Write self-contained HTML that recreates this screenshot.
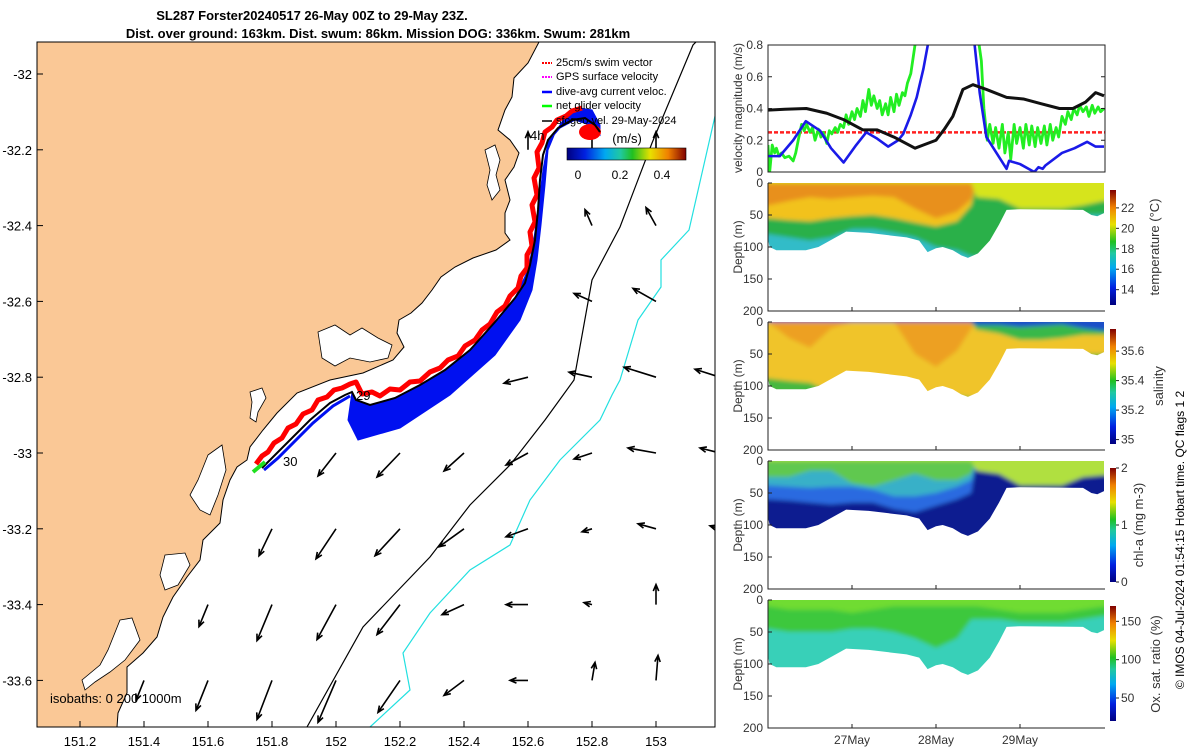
<!DOCTYPE html>
<html><head><meta charset="utf-8">
<style>
html,body{margin:0;padding:0;background:#fff;}
svg{display:block;font-family:"Liberation Sans",sans-serif;}
</style></head>
<body>
<svg id="fig" width="1200" height="750" viewBox="0 0 1200 750" xmlns="http://www.w3.org/2000/svg">
<defs>
  <linearGradient id="jetH" x1="0" x2="1" y1="0" y2="0">
    <stop offset="0" stop-color="#00007f"/><stop offset="0.15" stop-color="#0020e0"/><stop offset="0.32" stop-color="#00a8f0"/>
    <stop offset="0.45" stop-color="#20c8a0"/><stop offset="0.55" stop-color="#20c020"/><stop offset="0.7" stop-color="#e8e000"/>
    <stop offset="0.85" stop-color="#f08000"/><stop offset="1" stop-color="#800000"/>
  </linearGradient>
  <linearGradient id="jetV" x1="0" x2="0" y1="1" y2="0">
    <stop offset="0" stop-color="#00007f"/><stop offset="0.15" stop-color="#0020e0"/><stop offset="0.32" stop-color="#00a8f0"/>
    <stop offset="0.45" stop-color="#20c8a0"/><stop offset="0.55" stop-color="#20c020"/><stop offset="0.7" stop-color="#e8e000"/>
    <stop offset="0.85" stop-color="#f08000"/><stop offset="1" stop-color="#800000"/>
  </linearGradient>
  <filter id="soft" x="-5%" y="-5%" width="110%" height="110%"><feGaussianBlur stdDeviation="2.2"/></filter>
  <clipPath id="mapClip"><rect x="37" y="42" width="678" height="685"/></clipPath>
  <clipPath id="velClip"><rect x="768" y="45" width="337" height="127"/></clipPath>
</defs>

<text x="312" y="20" text-anchor="middle" font-size="13" font-weight="bold">SL287 Forster20240517 26-May 00Z to 29-May 23Z.</text>
<text x="378" y="38" text-anchor="middle" font-size="13" font-weight="bold">Dist. over ground: 163km. Dist. swum: 86km. Mission DOG: 336km. Swum: 281km</text>

<g id="map">
  <g clip-path="url(#mapClip)">
    <path fill="#fac896" stroke="#000" stroke-width="1"
      d="M37,42 L539,42 L528,63 L514,78 L512,97 L505,110 L498,130 L510,140 L519,153 L514,167 L505,180 L510,200 L505,213 L505,233 L510,240 L496,250 L473,258 L455,267 L441,277 L432,290 L422,303 L411,313 L399,320 L397,333 L404,347 L393,360 L363,373 L330,380 L297,393 L277,413 L263,430 L250,447 L247,460 L237,467 L230,480 L223,500 L220,523 L203,540 L200,560 L187,577 L173,597 L163,617 L157,637 L143,653 L127,667 L127,693 L118,713 L117,727 L37,727 Z"/>
    <path fill="#fff" stroke="#000" stroke-width="0.8" d="M485,150 L495,145 L500,160 L496,175 L500,190 L492,200 L487,185 L490,170 Z"/>
    <path fill="#fff" stroke="#000" stroke-width="0.8" d="M318,332 L335,325 L350,335 L362,328 L378,338 L392,345 L388,358 L370,362 L350,358 L335,366 L322,358 Z"/>
    <path fill="#fff" stroke="#000" stroke-width="0.8" d="M250,392 L262,388 L266,398 L258,412 L256,422 L250,418 L252,402 Z"/>
    <path fill="#fff" stroke="#000" stroke-width="0.8" d="M208,455 L222,445 L226,470 L218,495 L210,515 L200,510 L190,495 L198,480 Z"/>
    <path fill="#fff" stroke="#000" stroke-width="0.8" d="M165,555 L185,553 L190,565 L178,585 L165,590 L160,575 Z"/>
    <path fill="#fff" stroke="#000" stroke-width="0.8" d="M120,620 L132,618 L140,640 L125,660 L110,672 L95,682 L85,690 L82,680 L100,665 L108,650 Z"/>
    <polyline fill="none" stroke="#000" stroke-width="1.2" points="307,727 363,627 430,557 470,505 510,465 545,420 574,380 592,280 620,227 652,143 693,45 696,42"/>
    <polyline fill="none" stroke="#22e0e0" stroke-width="1.2" points="370,727 410,690 403,653 430,613 470,570 510,545 530,500 560,460 600,420 612,395 620,380 638,320 661,287 661,260 689,230 718,103"/>
    <g id="arrows"></g>
    <path fill="#0010f0" stroke="#0010f0" stroke-width="1"
      d="M352,392 L348,420 L358,440 L400,428 L450,395 L495,355 L520,320 L532,290 L537,260 L541,225 L545,185 L548,150 L555,133 L565,117 L580,108 L592,110 L600,125 L600,135 L590,125 L575,120 L560,128 L548,142 L543,170 L538,210 L533,245 L528,270 L515,298 L495,322 L470,350 L445,370 L420,385 L395,398 L370,405 L356,400 Z"/>
    <polyline fill="none" stroke="#0010f0" stroke-width="3" points="264,470 278,458 293,443 313,423 333,406 350,396"/>
    <polyline fill="none" stroke="#ff0000" stroke-width="5" stroke-linejoin="round" points="256,464 262,456 268,452 274,443 282,438 288,428 296,424 303,414 312,410 318,400 327,397 334,390 342,388 350,384 356,382 362,394 372,392 380,396 390,389 400,390 410,382 420,381 430,372 440,368 448,360 458,356 465,346 475,340 482,330 490,324 497,312 505,306 510,296 518,288 521,276 527,268 527,255 532,246 530,232 535,222 532,205 537,195 534,178 539,168 537,152 542,143 545,132 552,127 557,120 566,116 572,111 582,108"/>
    <ellipse cx="590" cy="132" rx="11" ry="8" fill="#ff0000"/>
    <polyline fill="none" stroke="#000" stroke-width="2" points="262,468 275,455 290,440 310,420 330,403 345,395 352,392 356,400 370,405 395,398 420,385 445,370 470,350 495,322 515,298 525,283 530,265 535,240 538,210 540,180 543,155 548,140 558,128 572,120 585,118 595,125 600,132"/>
    <polyline fill="none" stroke="#20e020" stroke-width="4" points="253,472 265,462"/>
    <text x="283" y="466" font-size="13">30</text>
    <text x="356" y="400" font-size="13">29</text>
    <text x="530" y="140" font-size="13">4h</text>
    <text x="50" y="703" font-size="13">isobaths: 0   200  1000m</text>
  </g>
  <rect x="37" y="42" width="678" height="685" fill="none" stroke="#000" stroke-width="1"/>
  <g id="mapTicks"></g>
  <g font-size="11">
    <g><line x1="542" y1="63" x2="552" y2="63" stroke="#ff0000" stroke-width="2" stroke-dasharray="2 1"/><text x="556" y="66">25cm/s swim vector</text></g>
    <g><line x1="542" y1="77" x2="552" y2="77" stroke="#ff00ff" stroke-width="2" stroke-dasharray="2 1"/><text x="556" y="80">GPS surface velocity</text></g>
    <g><line x1="542" y1="92" x2="552" y2="92" stroke="#0000ff" stroke-width="2.5"/><text x="556" y="95">dive-avg current veloc.</text></g>
    <g><line x1="542" y1="106" x2="552" y2="106" stroke="#00ff00" stroke-width="2.5"/><text x="556" y="109">net glider velocity</text></g>
    <g><line x1="542" y1="121" x2="552" y2="121" stroke="#000" stroke-width="1.5"/><text x="556" y="124">sfcgeo vel. 29-May-2024</text></g>
    <text x="627" y="143" text-anchor="middle" font-size="13">(m/s)</text>
    <rect x="567" y="148" width="119" height="12" fill="url(#jetH)" stroke="#000" stroke-width="0.6"/>
    <text x="578" y="179" text-anchor="middle" font-size="12">0</text>
    <text x="620" y="179" text-anchor="middle" font-size="12">0.2</text>
    <text x="662" y="179" text-anchor="middle" font-size="12">0.4</text>
  </g>
</g>

<g id="vel"></g>
<g id="sections"></g>
<text transform="translate(1184,540) rotate(-90)" text-anchor="middle" font-size="12">© IMOS 04-Jul-2024 01:54:15 Hobart time. QC flags 1  2</text>
</svg>

<script>
const NS = 'http://www.w3.org/2000/svg';
// ---- map current vectors (tail lon/lat, u/v m/s; 100 px per m/s) ----
const arrLon = [152.6,152.8,153.0, 152.8,153.0, 152.8,153.0, 152.4,152.6,152.8,153.0,153.2, 152.0,152.2,152.4,152.6,152.8,153.0,153.2, 151.8,152.0,152.2,152.4,152.6,152.8,153.0,153.2, 151.6,151.8,152.0,152.2,152.4,152.6,152.8,153.0, 151.4,151.6,151.8,152.0,152.2,152.4,152.6,152.8,153.0];
const arrLat = [-32.2,-32.2,-32.2, -32.4,-32.4, -32.6,-32.6, -32.8,-32.8,-32.8,-32.8,-32.8, -33,-33,-33,-33,-33,-33,-33, -33.2,-33.2,-33.2,-33.2,-33.2,-33.2,-33.2,-33.2, -33.4,-33.4,-33.4,-33.4,-33.4,-33.4,-33.4,-33.4, -33.6,-33.6,-33.6,-33.6,-33.6,-33.6,-33.6,-33.6,-33.6];
const arrU = [0,0,0, -0.07,-0.10, -0.18,-0.23, -0.22,-0.24,-0.23,-0.32,-0.25, -0.18,-0.23,-0.20,-0.22,-0.18,-0.28,-0.20, -0.13,-0.20,-0.25,-0.25,-0.22,-0.10,-0.18,-0.10, -0.09,-0.15,-0.19,-0.23,-0.22,-0.22,-0.08,0.0, -0.08,-0.12,-0.15,-0.18,-0.22,-0.20,-0.18,0.03,0.02];
const arrV = [0.18,0.20,0.18, 0.16,0.18, 0.08,0.13, -0.15,-0.06,0.05,0.10,0.08, -0.23,-0.24,-0.18,-0.12,-0.06,0.05,0.05, -0.27,-0.30,-0.27,-0.18,-0.08,-0.03,0.05,0.03, -0.22,-0.36,-0.35,-0.30,-0.10,0.0,0.02,0.20, -0.20,-0.30,-0.39,-0.42,-0.32,-0.15,0.0,0.18,0.25];
const mapXTicks = [151.2,151.4,151.6,151.8,152,152.2,152.4,152.6,152.8,153];
const mapYTicks = [-32,-32.2,-32.4,-32.6,-32.8,-33,-33.2,-33.4,-33.6];

// ---- velocity magnitude panel ----
const velTicks = [0,0.2,0.4,0.6,0.8];
const swimRef = 0.25;
const blackT = [0,0.2,0.456,0.7,0.9,1.13,1.3,1.5,1.75,1.85,2.0,2.1,2.2,2.32,2.44,2.6,2.84,3.04,3.25,3.47,3.63,3.78,3.9,4.0];
const blackV = [0.39,0.395,0.40,0.37,0.33,0.265,0.265,0.22,0.15,0.17,0.2,0.27,0.35,0.52,0.55,0.52,0.47,0.46,0.43,0.40,0.40,0.44,0.5,0.48];
const blueT = [0,0.14,0.3,0.45,0.62,0.75,0.9,1.05,1.17,1.3,1.43,1.55,1.61,1.7,1.77,1.85,1.92,2.0,2.3,2.45,2.52,2.6,2.72,2.84,2.87,3.0,3.17,3.22,3.27,3.3,3.5,3.65,3.8,3.9,4.0];
const blueV = [0.1,0.1,0.2,0.32,0.26,0.15,0.06,0.17,0.25,0.21,0.16,0.2,0.24,0.36,0.47,0.65,0.85,1.2,1.3,0.85,0.5,0.22,0.12,0.02,0.07,0.05,0.0,0.03,0.02,0.04,0.12,0.15,0.19,0.16,0.16];
const green1T = [0,0.02,0.05,0.08,0.1,0.13,0.16,0.2,0.25,0.3,0.33,0.36,0.4,0.43,0.46,0.5,0.53,0.56,0.6,0.63,0.66,0.7,0.73,0.76,0.8,0.83,0.86,0.9,0.93,0.96,1.0,1.03,1.06,1.1,1.13,1.16,1.2,1.23,1.26,1.3,1.33,1.36,1.4,1.43,1.46,1.5,1.53,1.56,1.6,1.63,1.66,1.7,1.75,1.8];
const green1V = [.17,0,.17,.12,.15,.1,.12,.09,.1,.07,.12,.2,.3,.26,.3,.25,.28,.2,.27,.22,.25,.18,.26,.24,.28,.25,.3,.28,.36,.3,.38,.33,.4,.35,.45,.38,.52,.42,.48,.4,.45,.36,.43,.36,.47,.38,.49,.42,.5,.48,.56,.62,.8,1.0];
const green2T = [2.46,2.50,2.54,2.57,2.61,2.64,2.68,2.71,2.75,2.79,2.82,2.86,2.89,2.93,2.96,3.00,3.04,3.07,3.11,3.14,3.18,3.21,3.25,3.29,3.32,3.36,3.39,3.43,3.46,3.50,3.54,3.57,3.61,3.64,3.68,3.71,3.75,3.79,3.82,3.86,3.89,3.93,3.96,4.00];
const green2V = [1.0,.85,.7,.4,.2,.3,.18,.28,.15,.3,.12,.25,.08,.3,.18,.28,.15,.3,.17,.29,.16,.28,.18,.29,.17,.3,.2,.28,.22,.35,.3,.38,.33,.4,.36,.42,.38,.41,.35,.42,.37,.41,.38,.4];

// ---- section panels ----
const timeTicks = [1,2,3];
const timeTickLabels = ['27May','28May','29May'];
const depthTicks = [0,50,100,150,200];
const bottomT = [0,0.02,0.1,0.45,0.6,0.93,1.2,1.65,1.8,1.9,2.0,2.08,2.2,2.3,2.38,2.5,2.64,2.75,2.84,3.0,3.75,3.85,3.92,4.0];
const bottomD = [88,100,105,105,100,76,78,85,90,108,102,100,105,113,117,110,90,65,42,41,42,50,52,47];
const secT = [0,0.25,0.5,0.75,1,1.25,1.5,1.75,2,2.25,2.42,2.48,2.75,3,3.25,3.5,3.75,4];
const tempGreen  = [80,85,90,85,72,72,78,85,100,105,115,115,110,60,50,50,50,50];
const tempYellow = [55,58,60,55,52,50,55,62,68,60,35,0,0,0,0,0,0,0];
const tempOrange = [35,28,22,25,22,20,22,40,55,45,25,0,0,0,0,0,0,0];
const tempLight  = [0,0,0,0,0,0,0,0,0,0,0,22,25,40,40,40,35,28];
const salYellow  = [88,92,95,110,110,110,110,110,115,115,118,118,110,60,50,50,50,50];
const salOrange  = [0,25,40,10,0,0,0,50,70,45,10,0,0,0,0,0,0,0];
const salGreen   = [0,0,0,0,0,0,0,0,0,0,0,12,18,28,28,25,20,20];
const salBlue    = [0,0,0,0,0,0,0,0,0,0,0,5,5,8,6,4,10,14];
const chlBlue    = [60,62,65,68,65,65,75,80,70,60,50,0,0,0,0,0,0,0];
const chlCyan    = [38,40,42,40,40,45,55,55,50,40,30,0,0,0,0,0,0,0];
const chlGreen   = [25,25,15,15,35,40,30,20,30,30,20,0,0,0,0,0,0,0];
const chlLight   = [0,0,0,0,0,0,0,0,0,0,0,15,20,38,38,38,25,22];
const oxGreen    = [45,50,50,50,45,45,50,60,75,60,30,30,30,35,35,35,30,25];
const oxLight    = [10,15,15,15,20,15,10,10,10,10,10,10,15,20,20,20,15,10];
const tempCbTicks = [14,16,18,20,22];
const salCbTicks = [35,35.2,35.4,35.6];
const chlCbTicks = [0,1,2];
const oxCbTicks = [50,100,150];

const svg = document.getElementById('fig');
function mk(tag, parent){ const e=document.createElementNS(NS,tag); parent.appendChild(e); return e; }

// ===== MAP =====
const X = lon => 80 + (lon-151.2)*320;
const Y = lat => 74 + (-32-lat)*379;
const arrowsG = document.getElementById('arrows');
for (let i=0;i<arrLon.length;i++){
  const x0=X(arrLon[i]), y0=Y(arrLat[i]);
  const x1=x0+arrU[i]*100, y1=y0-arrV[i]*100;
  const ang=Math.atan2(y1-y0,x1-x0), h=7, a=0.4;
  const p=mk('path',arrowsG);
  p.setAttribute('d',`M${x0},${y0} L${x1},${y1} M${x1-h*Math.cos(ang-a)},${y1-h*Math.sin(ang-a)} L${x1},${y1} L${x1-h*Math.cos(ang+a)},${y1-h*Math.sin(ang+a)}`);
  p.setAttribute('stroke','#000'); p.setAttribute('stroke-width','1.6'); p.setAttribute('fill','none');
  
  
}
const mt = document.getElementById('mapTicks');
mapXTicks.forEach(v=>{
  const x=X(v);
  const l=mk('line',mt); l.setAttribute('x1',x); l.setAttribute('x2',x); l.setAttribute('y1',727); l.setAttribute('y2',721); l.setAttribute('stroke','#000');
  
  
  const t=mk('text',mt); t.setAttribute('x',x); t.setAttribute('y',746); t.setAttribute('text-anchor','middle'); t.setAttribute('font-size','13'); t.textContent=String(v);
  
  
});
mapYTicks.forEach(v=>{
  const y=Y(v);
  const l=mk('line',mt); l.setAttribute('x1',37); l.setAttribute('x2',43); l.setAttribute('y1',y); l.setAttribute('y2',y); l.setAttribute('stroke','#000');
  
  
  const t=mk('text',mt); t.setAttribute('x',32); t.setAttribute('y',y+5); t.setAttribute('text-anchor','end'); t.setAttribute('font-size','13'); t.textContent=String(v);
  
  
});

// ===== VELOCITY PANEL =====
const xT = t => 768 + t*84;
const L=768, R=1105;
const vTop=45, vBot=172;
const yV = v => vBot - v/0.8*(vBot-vTop);
const vel = document.getElementById('vel');
const vg = mk('g',vel); vg.setAttribute('clip-path','url(#velClip)');
const ref = mk('line',vg); ref.setAttribute('x1',L); ref.setAttribute('x2',R); ref.setAttribute('y1',yV(swimRef)); ref.setAttribute('y2',yV(swimRef));
ref.setAttribute('stroke','#ff2020'); ref.setAttribute('stroke-width','2.5'); ref.setAttribute('stroke-dasharray','4 2');


function series(T,V,color,w){
  const p=mk('polyline',vg);
  p.setAttribute('points',T.map((t,i)=>xT(t)+','+yV(V[i])).join(' '));
  p.setAttribute('fill','none'); p.setAttribute('stroke',color); p.setAttribute('stroke-width',w); p.setAttribute('stroke-linejoin','round');
  return p;
}
let s;
s=series(green1T,green1V,'#22ee22',2.8);


s=series(green2T,green2V,'#22ee22',2.8);


s=series(blueT,blueV,'#1a1ae8',2.6);


s=series(blackT,blackV,'#111',3);


const vf=mk('rect',vel); vf.setAttribute('x',L); vf.setAttribute('y',vTop); vf.setAttribute('width',R-L); vf.setAttribute('height',vBot-vTop); vf.setAttribute('fill','none'); vf.setAttribute('stroke','#222');


velTicks.forEach(v=>{
  const y=yV(v);
  const l=mk('line',vel); l.setAttribute('x1',L); l.setAttribute('x2',L+4); l.setAttribute('y1',y); l.setAttribute('y2',y); l.setAttribute('stroke','#222');
  
  
  const l2=mk('line',vel); l2.setAttribute('x1',R); l2.setAttribute('x2',R-4); l2.setAttribute('y1',y); l2.setAttribute('y2',y); l2.setAttribute('stroke','#222');
  
  
  const t=mk('text',vel); t.setAttribute('x',L-5); t.setAttribute('y',y+4); t.setAttribute('text-anchor','end'); t.setAttribute('font-size','12'); t.setAttribute('fill','#333'); t.textContent=String(v);
  
  
});
const vt=mk('text',vel); vt.setAttribute('transform','translate(742,108) rotate(-90)'); vt.setAttribute('text-anchor','middle'); vt.setAttribute('font-size','12'); vt.setAttribute('fill','#333'); vt.textContent='velocity magnitude (m/s)';



// ===== SECTIONS =====
const secs = document.getElementById('sections');
function interpBottom(){ return bottomT.map((t,i)=>[t,bottomD[i]]); }
function section(top, base, layers, cb, cbTicks, cbMin, cbMax, label, labelX, name, showX){
  const H=128;
  const yD = d => top + d/200*H;
  const g=mk('g',secs);
  
  
  const cid='clip-'+name;
  const cp=mk('clipPath',g); cp.setAttribute('id',cid);
  const poly=mk('polygon',cp);
  const pts=[[xT(0),yD(0)],[xT(4),yD(0)]].concat(interpBottom().reverse().map(p=>[xT(p[0]),yD(p[1])]));
  poly.setAttribute('points',pts.map(p=>p.join(',')).join(' '));
  const dg=mk('g',g); dg.setAttribute('clip-path','url(#'+cid+')');
  const inner=mk('g',dg); inner.setAttribute('filter','url(#soft)');
  const b=mk('rect',inner); b.setAttribute('x',L-10); b.setAttribute('y',top-10); b.setAttribute('width',R-L+20); b.setAttribute('height',H+20); b.setAttribute('fill',base);
  
  
  layers.forEach(ly=>{
    const p=mk('polygon',inner);
    const arr=ly.d;
    const pp=[[xT(0)-10,top-10],[xT(4)+10,top-10],[xT(4)+10,yD(arr[arr.length-1])]];
    for(let i=secT.length-1;i>=0;i--) pp.push([xT(secT[i]),yD(arr[i])]);
    pp.push([xT(0)-10,yD(arr[0])]);
    p.setAttribute('points',pp.map(q=>q.join(',')).join(' '));
    p.setAttribute('fill',ly.c);
    
    
  });
  const ax=mk('path',g); ax.setAttribute('d',`M${L},${top} L${L},${top+H} L${R},${top+H}`); ax.setAttribute('fill','none'); ax.setAttribute('stroke','#222');
  
  
  depthTicks.forEach(d=>{
    const y=yD(d);
    const l=mk('line',g); l.setAttribute('x1',L); l.setAttribute('x2',L+4); l.setAttribute('y1',y); l.setAttribute('y2',y); l.setAttribute('stroke','#222');
    
    
    const t=mk('text',g); t.setAttribute('x',L-5); t.setAttribute('y',y+4); t.setAttribute('text-anchor','end'); t.setAttribute('font-size','12'); t.setAttribute('fill','#333'); t.textContent=String(d);
    
    
  });
  timeTicks.forEach((tv,i)=>{
    const x=xT(tv);
    const l=mk('line',g); l.setAttribute('x1',x); l.setAttribute('x2',x); l.setAttribute('y1',top+H); l.setAttribute('y2',top+H-4); l.setAttribute('stroke','#222');
    
    
    if(showX){
      const t=mk('text',g); t.setAttribute('x',x); t.setAttribute('y',top+H+16); t.setAttribute('text-anchor','middle'); t.setAttribute('font-size','12'); t.setAttribute('fill','#333'); t.textContent=timeTickLabels[i];
      
      
    }
  });
  const yl=mk('text',g); yl.setAttribute('transform',`translate(742,${top+H/2}) rotate(-90)`); yl.setAttribute('text-anchor','middle'); yl.setAttribute('font-size','12'); yl.setAttribute('fill','#333'); yl.textContent='Depth (m)';
  
  
  const cy0=cb[0], cy1=cb[1];
  const r=mk('rect',g); r.setAttribute('x',1110); r.setAttribute('y',cy0); r.setAttribute('width',6); r.setAttribute('height',cy1-cy0); r.setAttribute('fill','url(#jetV)');
  
  
  cbTicks.forEach(v=>{
    const y=cy1-(v-cbMin)/(cbMax-cbMin)*(cy1-cy0);
    const l=mk('line',g); l.setAttribute('x1',1116); l.setAttribute('x2',1119); l.setAttribute('y1',y); l.setAttribute('y2',y); l.setAttribute('stroke','#222');
    
    
    const t=mk('text',g); t.setAttribute('x',1121); t.setAttribute('y',y+4); t.setAttribute('font-size','12'); t.setAttribute('fill','#333'); t.textContent=String(v);
    
    
  });
  const cl=mk('text',g); cl.setAttribute('transform',`translate(${labelX},${top+H/2}) rotate(-90)`); cl.setAttribute('text-anchor','middle'); cl.setAttribute('font-size','13'); cl.setAttribute('fill','#333'); cl.textContent=label;
  
  
}
section(183,'#30bcc8',[{d:tempGreen,c:'#2cb04a'},{d:tempYellow,c:'#f2c21e'},{d:tempOrange,c:'#e8901a'},{d:tempLight,c:'#d6e41c'}],[190,305],tempCbTicks,12.5,23.75,'temperature (°C)',1159,'temperature-section',false);
section(322,'#46b840',[{d:salYellow,c:'#f0c42a'},{d:salOrange,c:'#eda020'},{d:salGreen,c:'#38b848'},{d:salBlue,c:'#1a50c8'}],[329,444],salCbTicks,34.97,35.75,'salinity',1163,'salinity-section',false);
section(461,'#101c90',[{d:chlBlue,c:'#2a6ae0'},{d:chlCyan,c:'#38b0c8'},{d:chlGreen,c:'#60c850'},{d:chlLight,c:'#b0e040'}],[468,582],chlCbTicks,0,2,'chl-a (mg m-3)',1143,'chl-section',false);
section(600,'#38d0b8',[{d:oxGreen,c:'#3cc83c'},{d:oxLight,c:'#70dc30'}],[606,721],oxCbTicks,20,170,'Ox. sat. ratio (%)',1160,'oxygen-section',true);
</script>
</body></html>
